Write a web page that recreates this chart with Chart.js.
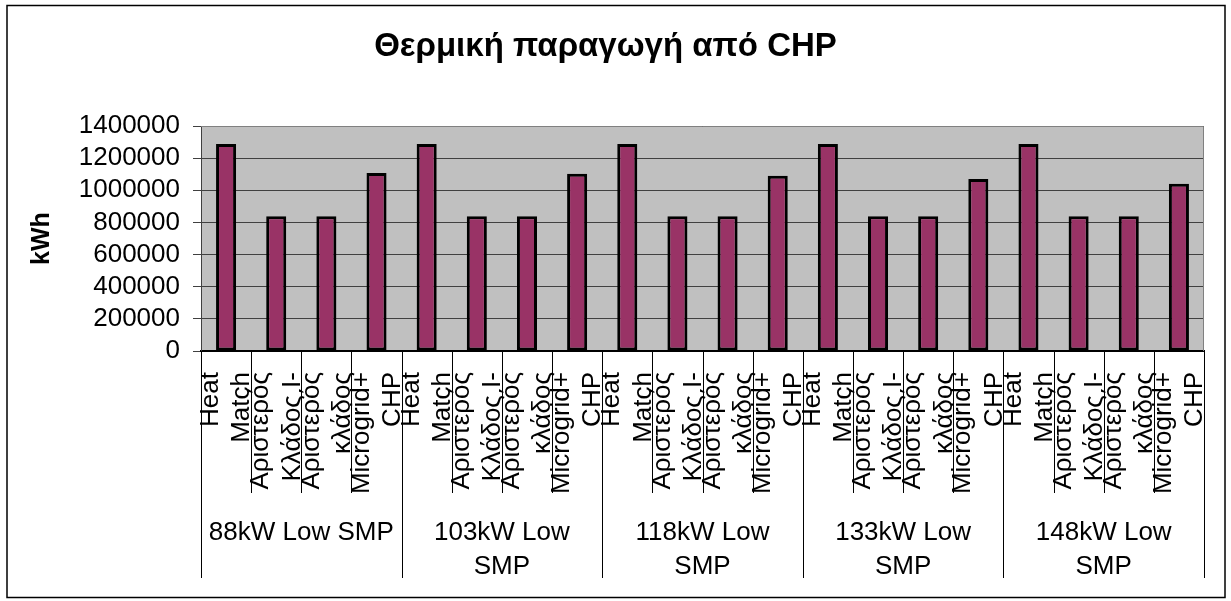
<!DOCTYPE html>
<html>
<head>
<meta charset="utf-8">
<script src="https://cdn.jsdelivr.net/npm/chart.js@4/dist/chart.umd.min.js"></script>
<style>
  body { margin: 0; background: #fff; }
  canvas { display: block; }
</style>
</head>
<body>
<canvas id="chp" width="1231" height="601"></canvas>
<script>
// categories inside each group, and the groups themselves
const categories = [['Heat', 'Match'], ['Αριστερός', 'Κλάδος I-'], ['Αριστερός', 'κλάδος'], ['Microgrid+', 'CHP']];
const groups = ['88kW Low SMP', ['103kW Low', 'SMP'], ['118kW Low', 'SMP'], ['133kW Low', 'SMP'], ['148kW Low', 'SMP']];

// kWh per group, one array per category
const heatMatch = [1288000, 1288000, 1288000, 1288000, 1288000];
const leftBranchI = [838000, 838000, 838000, 838000, 838000];
const leftBranch = [838000, 838000, 838000, 838000, 838000];
const microgridChp = [1107000, 1103000, 1090000, 1071000, 1040000];

const yTicks = [0, 200000, 400000, 600000, 800000, 1000000, 1200000, 1400000];

const labels = [];
const values = [];
groups.forEach((g, i) => {
  labels.push(...categories);
  values.push(heatMatch[i], leftBranchI[i], leftBranch[i], microgridChp[i]);
});

const FONT = 'Liberation Sans, Arial, sans-serif';

// white page, outer frame and grey plot background
const frame = {
  id: 'frame',
  beforeDraw(chart) {
    const { ctx, chartArea: a } = chart;
    ctx.save();
    ctx.fillStyle = '#fff';
    ctx.fillRect(0, 0, chart.width, chart.height);
    ctx.fillStyle = '#c0c0c0';
    ctx.fillRect(a.left, a.top, a.right - a.left, a.bottom - a.top);
    ctx.restore();
  },
  afterDraw(chart) {
    const { ctx, chartArea: a } = chart;
    const xs = chart.scales.x, x2 = chart.scales.x2;
    ctx.save();
    ctx.strokeStyle = '#808080';
    ctx.lineWidth = 1;
    ctx.beginPath();
    ctx.moveTo(a.left, a.top + 0.5);
    ctx.lineTo(a.right - 0.5, a.top + 0.5);
    ctx.lineTo(a.right - 0.5, a.bottom);
    ctx.stroke();

    // separators between categories and groups
    const n = labels.length;
    const step = (xs.right - xs.left) / n;
    ctx.strokeStyle = '#000';
    ctx.lineWidth = 1;
    for (let i = 0; i <= n; i++) {
      const px = Math.round(xs.left + i * step) + 0.5;
      const end = i % categories.length === 0 ? x2.bottom : xs.bottom;
      ctx.beginPath();
      ctx.moveTo(px, a.bottom);
      ctx.lineTo(px, end);
      ctx.stroke();
    }

    ctx.lineWidth = 1.5;
    ctx.strokeRect(7, 5.5, 1218, 592);
    ctx.restore();
  }
};

function noSidePadding(scale) {
  scale.paddingLeft = 0;
  scale.paddingRight = 0;
}

new Chart(document.getElementById('chp').getContext('2d'), {
  type: 'bar',
  data: {
    labels: labels,
    datasets: [{
      label: 'kWh',
      data: values,
      backgroundColor: '#993366',
      borderColor: '#000',
      borderWidth: 3,
      borderSkipped: false,
      categoryPercentage: 1,
      barPercentage: 0.4,
      xAxisID: 'x',
      yAxisID: 'y'
    }]
  },
  options: {
    responsive: false,
    animation: false,
    events: [],
    layout: { padding: { top: 0, left: 7, right: 27, bottom: 23 } },
    scales: {
      x: {
        type: 'category',
        position: 'bottom',
        offset: true,
        grid: { display: false, drawTicks: false },
        border: { display: true, color: '#000', width: 2 },
        ticks: {
          autoSkip: false,
          minRotation: 90,
          maxRotation: 90,
          padding: 21,
          labelOffset: -15,
          color: '#000',
          font: { family: FONT, size: 26, lineHeight: 1.2 }
        },
        afterFit(scale) { scale.height = 142; noSidePadding(scale); }
      },
      x2: {
        type: 'category',
        position: 'bottom',
        labels: groups,
        offset: true,
        grid: { display: false, drawTicks: false },
        border: { display: false },
        ticks: {
          autoSkip: false,
          maxRotation: 0,
          minRotation: 0,
          padding: 23,
          color: '#000',
          font: { family: FONT, size: 26, lineHeight: 1.3 }
        },
        afterFit(scale) { scale.height = 85; noSidePadding(scale); }
      },
      y: {
        min: 0,
        max: 1400000,
        afterBuildTicks(scale) { scale.ticks = yTicks.map(v => ({ value: v })); },
        grid: { color: '#404040', lineWidth: 1, tickLength: 8 },
        border: { color: '#404040', width: 1 },
        ticks: {
          autoSkip: false,
          padding: 13,
          color: '#000',
          font: { family: FONT, size: 26 },
          callback: v => String(v)
        },
        title: {
          display: true,
          text: 'kWh',
          color: '#000',
          padding: { top: 20, bottom: 0 },
          font: { family: FONT, size: 25, weight: 'bold' }
        },
        afterFit(scale) { scale.width = 194; scale.paddingTop = 0; scale.paddingBottom = 0; }
      }
    },
    plugins: {
      legend: { display: false },
      tooltip: { enabled: false },
      title: {
        display: true,
        text: 'Θερμική παραγωγή από CHP',
        color: '#000',
        padding: { top: 27, bottom: 59.4 },
        font: { family: FONT, size: 33, weight: 'bold', lineHeight: 1.2 }
      }
    }
  },
  plugins: [frame]
});
</script>
</body>
</html>
